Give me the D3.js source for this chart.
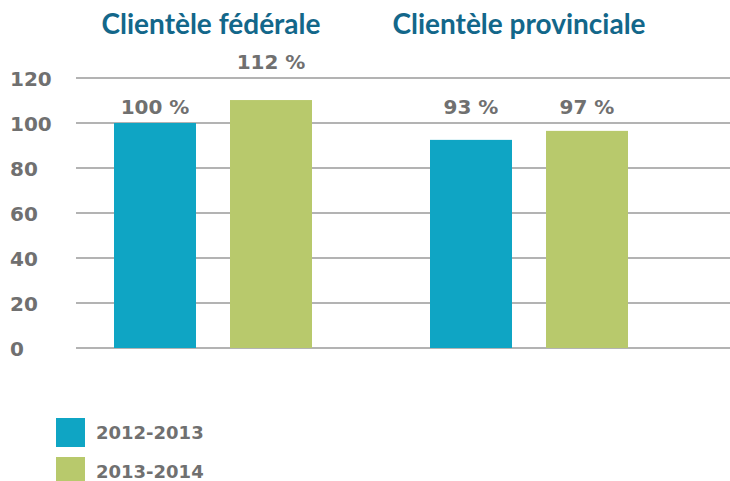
<!DOCTYPE html>
<html>
<head>
<meta charset="utf-8">
<script src="https://cdn.jsdelivr.net/npm/d3@7"></script>
<style>
  body { margin: 0; background: #fff; }
  svg { display: block; }
</style>
</head>
<body>
<svg width="730" height="481"></svg>
<script>
// groupes et séries
const groups = ["Clientèle fédérale", "Clientèle provinciale"];
const series = ["2012-2013", "2013-2014"];
const values2012 = [100, 92.5];
const values2013 = [110.2, 96.5];
const labels2012 = ["100 %", "93 %"];
const labels2013 = ["112 %", "97 %"];
const yTicks = [0, 20, 40, 60, 80, 100, 120];
const colors = ["#0fa5c4", "#b8c96c"];

const numFont = "'DejaVu Sans', sans-serif";
const svg = d3.select("svg");

const y = d3.scaleLinear().domain([0, 120]).range([348, 78]);
const x0 = d3.scaleBand().domain(groups).range([56, 688]);
const x1 = d3.scaleBand().domain(series).range([58, 256]).paddingInner(34 / 116);
const color = d3.scaleOrdinal().domain(series).range(colors);

// lignes de la grille
svg.append("g")
  .selectAll("line")
  .data(yTicks)
  .join("line")
  .attr("x1", 76).attr("x2", 730)
  .attr("y1", d => y(d)).attr("y2", d => y(d))
  .attr("stroke", "#9a9a9a")
  .attr("stroke-width", 1.6);

// étiquettes de l'axe
svg.append("g")
  .selectAll("text")
  .data(yTicks)
  .join("text")
  .attr("x", 10)
  .attr("y", d => y(d) + 8)
  .attr("fill", "#707070")
  .attr("font-family", numFont)
  .attr("font-weight", 700)
  .attr("font-size", 20)
  .text(d => d);

const data = [];
groups.forEach((g, i) => {
  data.push({ group: g, serie: series[0], value: values2012[i], label: labels2012[i] });
  data.push({ group: g, serie: series[1], value: values2013[i], label: labels2013[i] });
});

// barres
svg.append("g")
  .selectAll("rect")
  .data(data)
  .join("rect")
  .attr("x", d => x0(d.group) + x1(d.serie))
  .attr("y", d => y(d.value))
  .attr("width", x1.bandwidth())
  .attr("height", d => y(0) - y(d.value))
  .attr("fill", d => color(d.serie));

// valeurs
svg.append("g")
  .selectAll("text")
  .data(data)
  .join("text")
  .attr("x", d => x0(d.group) + x1(d.serie) + x1.bandwidth() / 2)
  .attr("y", d => d.value > 105 ? y(124) : y(104))
  .attr("text-anchor", "middle")
  .attr("fill", "#707070")
  .attr("font-family", numFont)
  .attr("font-weight", 700)
  .attr("font-size", 20)
  .text(d => d.label);

// titres des groupes
svg.append("g")
  .selectAll("text")
  .data(groups)
  .join("text")
  .attr("x", (d, i) => x0(d) + x0.bandwidth() / 2 - (i ? 11 : 3))
  .attr("y", 34)
  .attr("text-anchor", "middle")
  .attr("fill", "#13678a")
  .attr("font-family", "Lato, sans-serif")
  .attr("font-weight", 700)
  .attr("font-size", 28)
  .text(d => d);

// légende
const legend = svg.append("g")
  .selectAll("g")
  .data(series)
  .join("g")
  .attr("transform", (d, i) => `translate(56,${418 + i * 39})`);

legend.append("rect")
  .attr("width", 29).attr("height", 29)
  .attr("fill", d => color(d));

legend.append("text")
  .attr("x", 40).attr("y", 21)
  .attr("fill", "#707070")
  .attr("font-family", numFont)
  .attr("font-weight", 700)
  .attr("font-size", 18)
  .text(d => d);
</script>
</body>
</html>
